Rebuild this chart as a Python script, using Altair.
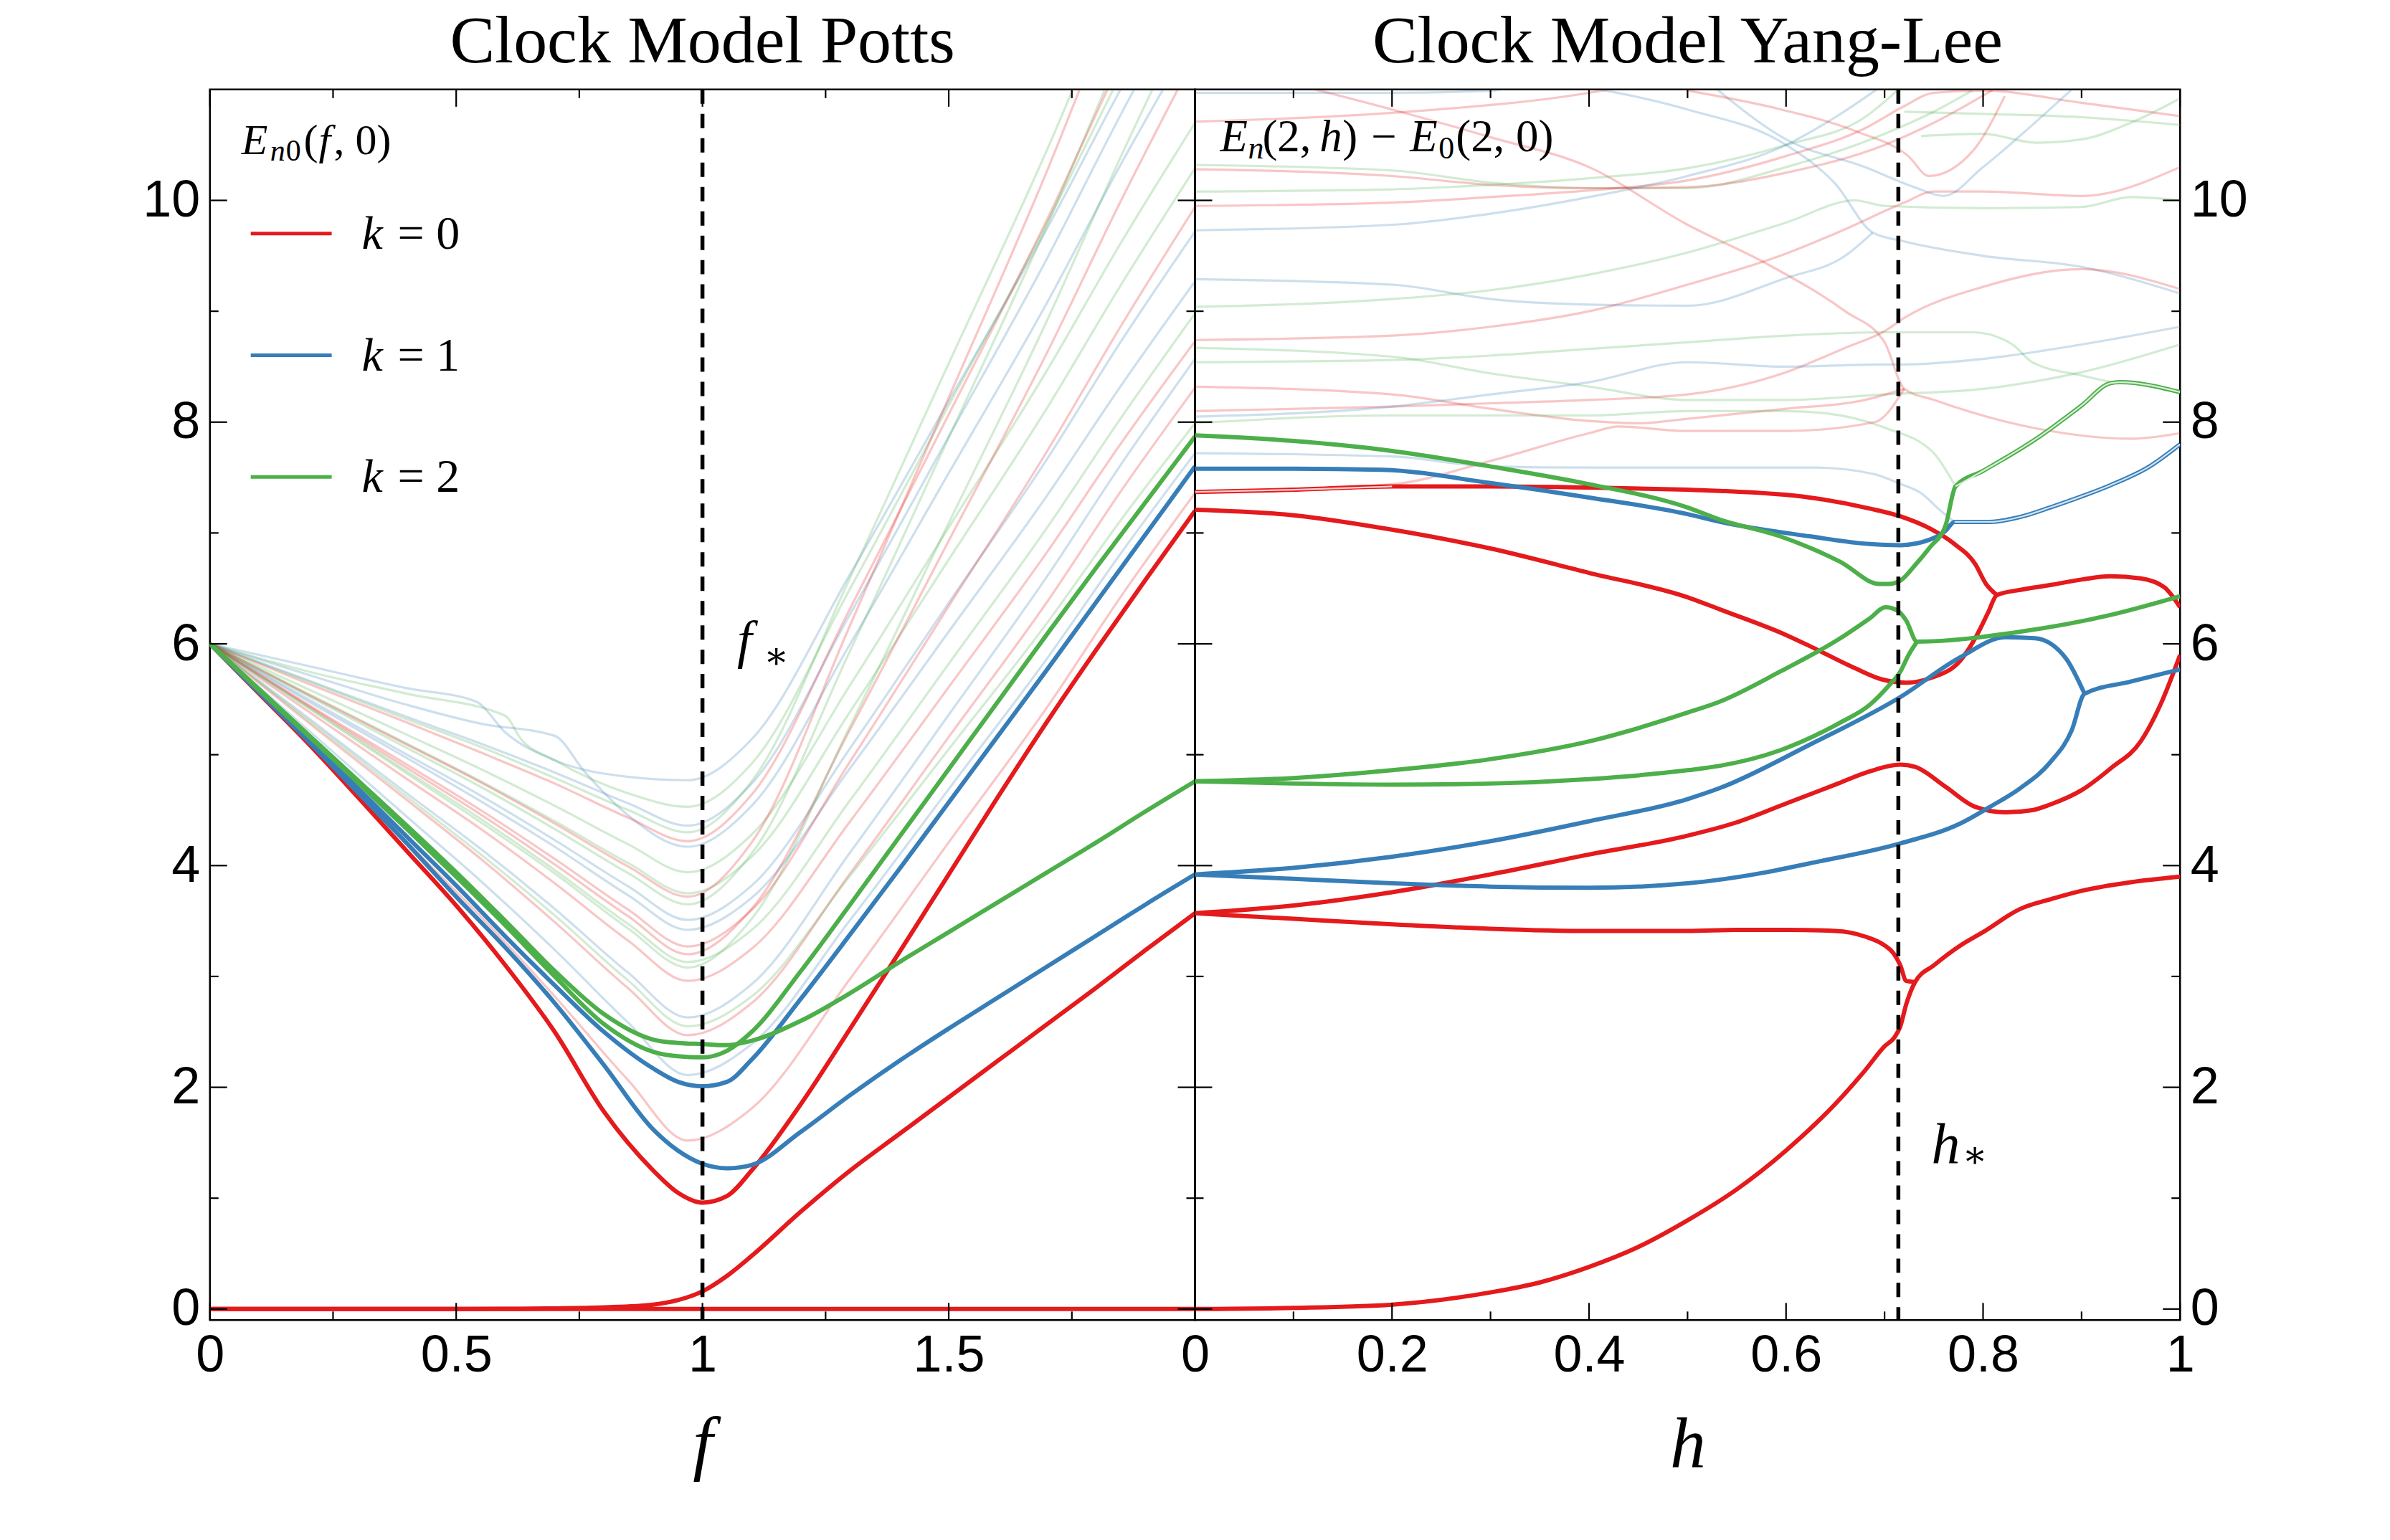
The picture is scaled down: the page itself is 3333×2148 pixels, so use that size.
import altair as alt
import pandas as pd

# ---------------------------------------------------------------
# Colours, fonts, sizes
# ---------------------------------------------------------------
RED, BLUE, GREEN = "#e41a1c", "#377eb8", "#4daf4a"
PALE_RED, PALE_BLUE, PALE_GREEN = "#f8cfd0", "#d3e3f0", "#d8eed7"
SERIF = "Liberation Serif"
SANS = "Liberation Sans"
W, H = 1375, 1718
Y_DOMAIN = [-0.1, 11.0]
Y_TICKS = [0, 2, 4, 6, 8, 10]
Y_MINOR = [1, 3, 5, 7, 9]

# ---------------------------------------------------------------
# Clock model, Potts direction: E_n0(f, 0)
# ---------------------------------------------------------------
POTTS_X_LABELS = [0, 0.5, 1, 1.5]
POTTS_X_MAJOR = [0, 0.5, 1, 1.5, 2]
POTTS_X_MINOR = [0.25, 0.75, 1.25, 1.75]
F_STAR = 1.0

F_GRID = [0, 0.1, 0.2, 0.3, 0.4, 0.5, 0.6, 0.7, 0.8, 0.9, 0.95, 1.0, 1.05,
          1.1, 1.2, 1.3, 1.4, 1.5, 1.6, 1.7, 1.8, 1.9, 2.0]
potts_k0_ground = [0, 0, 0, 0, 0, 0, 0, 0, 0, 0, 0, 0, 0,
                   0, 0, 0, 0, 0, 0, 0, 0, 0, 0]
potts_k0_low = [0, 0, 0, 0, 0, 0, 0.002, 0.006, 0.015, 0.04, 0.08, 0.16, 0.3,
                0.48, 0.88, 1.25, 1.58, 1.91, 2.24, 2.57, 2.9, 3.24, 3.57]
potts_k0_mid = [6, 5.55, 5.1, 4.62, 4.13, 3.64, 3.1, 2.5, 1.78, 1.25, 1.05, 0.96, 1.02,
                1.25, 1.85, 2.53, 3.22, 3.92, 4.62, 5.3, 5.95, 6.58, 7.2]
potts_k1_low = [6, 5.56, 5.12, 4.66, 4.2, 3.72, 3.26, 2.76, 2.2, 1.62, 1.43, 1.31, 1.27,
                1.3, 1.6, 1.93, 2.24, 2.53, 2.81, 3.09, 3.37, 3.65, 3.92]
potts_k1_up = [6, 5.57, 5.14, 4.7, 4.26, 3.82, 3.36, 2.92, 2.5, 2.17, 2.05, 2.01, 2.05,
               2.25, 2.8, 3.38, 3.97, 4.57, 5.17, 5.77, 6.38, 6.99, 7.6]
potts_k2_up = [6, 5.58, 5.17, 4.75, 4.33, 3.9, 3.46, 3.0, 2.57, 2.32, 2.28, 2.27, 2.33,
               2.5, 3.05, 3.65, 4.26, 4.87, 5.48, 6.09, 6.69, 7.28, 7.87]
potts_k2_low = [6, 5.59, 5.18, 4.77, 4.36, 3.94, 3.5, 3.05, 2.66, 2.43, 2.4, 2.39, 2.38,
                2.42, 2.6, 2.85, 3.13, 3.4, 3.67, 3.94, 4.21, 4.49, 4.76]

# higher levels, drawn pale
FG = [0, 0.2, 0.4, 0.55, 0.7, 0.85, 0.97, 1.1, 1.3, 1.5, 1.7, 1.85, 2.0]
pf_b1_f = [0, 0.2, 0.4, 0.54, 0.6, 0.7, 0.85, 0.97, 1.1, 1.3, 1.5, 1.7, 1.85, 2.0]
pf_b1 = [6, 5.8, 5.6, 5.48, 5.2, 4.95, 4.8, 4.77, 5.14, 6.63, 8.19, 9.75, 11.01, 12.2]
pf_g2_f = [0, 0.2, 0.4, 0.6, 0.63, 0.7, 0.85, 0.97, 1.1, 1.3, 1.5, 1.7, 1.85, 2.0]
pf_g2 = [6, 5.75, 5.55, 5.35, 5.15, 4.95, 4.65, 4.53, 4.92, 6.5, 8.15, 9.8, 11.14, 12.4]
pf_b3 = [6, 5.67, 5.34, 5.1, 4.84, 4.56, 4.36, 4.74, 6.27, 7.87, 9.48, 10.78, 12.0]
pf_b4_f = [0, 0.2, 0.4, 0.55, 0.7, 0.76, 0.85, 0.97, 1.1, 1.3, 1.5, 1.7, 1.85, 2.0]
pf_b4 = [6, 5.72, 5.45, 5.28, 5.17, 4.85, 4.45, 4.17, 4.54, 6.0, 7.54, 9.08, 10.33, 11.5]
pf_g5 = [6, 5.59, 5.18, 4.87, 4.54, 4.19, 3.94, 4.28, 5.63, 7.05, 8.47, 9.62, 10.7]
pf_g6 = [6, 5.55, 5.1, 4.76, 4.4, 4.02, 3.75, 4.08, 5.39, 6.76, 8.13, 9.24, 10.29]
pf_b7 = [6, 5.5, 5.0, 4.63, 4.23, 3.81, 3.51, 3.82, 5.06, 6.37, 7.67, 8.73, 9.72]
pf_b8 = [6, 5.48, 4.97, 4.58, 4.17, 3.73, 3.42, 3.71, 4.88, 6.11, 7.34, 8.33, 9.27]
pf_r9 = [6, 5.45, 4.91, 4.5, 4.06, 3.6, 3.27, 3.6, 4.94, 6.34, 7.74, 8.87, 9.94]
pf_g10 = [6, 5.43, 4.85, 4.42, 3.96, 3.47, 3.13, 3.42, 4.59, 5.82, 7.05, 8.04, 8.98]
pf_r11 = [6, 5.39, 4.78, 4.33, 3.84, 3.32, 2.96, 3.25, 4.4, 5.61, 6.83, 7.81, 8.73]
pf_b12 = [6, 5.33, 4.65, 4.15, 3.61, 3.03, 2.63, 2.93, 4.12, 5.36, 6.61, 7.62, 8.57]
pf_r13 = [6, 5.29, 4.59, 4.06, 3.49, 2.89, 2.47, 2.76, 3.93, 5.16, 6.38, 7.38, 8.31]
pf_b14 = [6, 5.22, 4.44, 3.86, 3.24, 2.58, 2.11, 2.39, 3.51, 4.69, 5.87, 6.82, 7.72]
pf_g15 = [6, 5.31, 4.62, 4.1, 3.55, 2.96, 2.55, 2.82, 3.91, 5.05, 6.19, 7.12, 7.99]
pf_r16 = [6, 5.1, 4.21, 3.54, 2.82, 2.06, 1.52, 1.81, 2.98, 4.21, 5.43, 6.43, 7.36]
pf_r17 = [6, 5.44, 4.88, 4.46, 4.01, 3.54, 3.2, 3.61, 5.23, 6.93, 8.63, 10.0, 11.3]
pf_g18 = [6, 5.53, 5.06, 4.71, 4.33, 3.93, 3.65, 4.11, 5.94, 7.86, 9.78, 11.34, 12.8]
pf_r19 = [6, 5.54, 5.09, 4.75, 4.38, 3.99, 3.72, 4.21, 6.17, 8.22, 10.27, 11.94, 13.5]
pf_g20 = [6, 5.42, 4.83, 4.39, 3.93, 3.43, 3.08, 3.52, 5.26, 7.09, 8.92, 10.4, 11.8]
pf_g21 = [6, 5.66, 5.32, 5.07, 4.79, 4.5, 4.3, 4.76, 6.6, 8.53, 10.46, 12.03, 13.5]
pf_r22 = [6, 5.64, 5.29, 5.02, 4.74, 4.43, 4.22, 4.64, 6.32, 8.07, 9.83, 11.26, 12.6]

# ---------------------------------------------------------------
# Clock model, Yang-Lee direction: E_n(2, h) - E_0(2, 0)
# ---------------------------------------------------------------
YL_X_LABELS = [0, 0.2, 0.4, 0.6, 0.8, 1]
YL_X_MAJOR = [0, 0.2, 0.4, 0.6, 0.8, 1]
YL_X_MINOR = [0.1, 0.3, 0.5, 0.7, 0.9]
H_STAR = 0.714

yl_k0_ground_h = [0, 0.1, 0.2, 0.3, 0.35, 0.4, 0.45, 0.5, 0.55, 0.6, 0.65, 0.68, 0.7, 0.71,
                  0.716, 0.722, 0.731, 0.75, 0.777, 0.8, 0.838, 0.87, 0.899, 0.95, 1.0]
yl_k0_ground_v = [0, 0.01, 0.04, 0.15, 0.24, 0.38, 0.56, 0.8, 1.08, 1.43, 1.85, 2.15, 2.37,
                  2.45, 2.55, 2.75, 2.95, 3.1, 3.28, 3.4, 3.61, 3.7, 3.77, 3.85, 3.9]
yl_k0_flat_h = [0, 0.1, 0.2, 0.3, 0.4, 0.5, 0.55, 0.6, 0.65, 0.68, 0.7, 0.709, 0.716, 0.722, 0.731]
yl_k0_flat_v = [3.57, 3.52, 3.47, 3.43, 3.41, 3.41, 3.42, 3.42, 3.41, 3.36, 3.28, 3.21, 3.1, 2.96, 2.95]
yl_k0_loop_h = [0, 0.1, 0.2, 0.3, 0.4, 0.5, 0.55, 0.6, 0.65, 0.685, 0.716, 0.731, 0.762, 0.792,
                0.823, 0.85, 0.868, 0.9, 0.93, 0.96, 0.98, 1.0]
yl_k0_loop_v = [3.57, 3.64, 3.76, 3.92, 4.1, 4.27, 4.39, 4.56, 4.73, 4.85, 4.91, 4.89, 4.71, 4.53,
                4.48, 4.5, 4.55, 4.68, 4.88, 5.12, 5.45, 5.9]
yl_k0_72_h = [0, 0.1, 0.2, 0.3, 0.4, 0.5, 0.533, 0.6, 0.624, 0.67, 0.697, 0.722, 0.746, 0.777,
              0.792, 0.805, 0.814, 0.84, 0.868, 0.9, 0.929, 0.96, 0.984, 1.0]
yl_k0_72_v = [7.21, 7.16, 7.03, 6.86, 6.64, 6.42, 6.31, 6.08, 5.98, 5.78, 5.68, 5.65, 5.69, 5.85,
              6.05, 6.28, 6.44, 6.49, 6.53, 6.58, 6.61, 6.59, 6.51, 6.33]
yl_k0_74_h = [0, 0.1, 0.2, 0.3, 0.4, 0.5, 0.533, 0.624, 0.685, 0.716, 0.746, 0.771, 0.792, 0.803, 0.814]
yl_k0_74_v = [7.37, 7.39, 7.42, 7.42, 7.41, 7.39, 7.38, 7.32, 7.22, 7.15, 7.04, 6.9, 6.72, 6.54, 6.44]
yl_k1_low_h = [0, 0.1, 0.2, 0.3, 0.4, 0.5, 0.58, 0.624, 0.716, 0.777, 0.807, 0.838, 0.868, 0.89,
               0.903, 0.95, 1.0]
yl_k1_low_v = [3.92, 3.88, 3.84, 3.81, 3.8, 3.84, 3.94, 4.02, 4.2, 4.38, 4.53, 4.7, 4.93, 5.22,
               5.55, 5.66, 5.77]
yl_k1_up_h = [0, 0.1, 0.2, 0.3, 0.4, 0.5, 0.533, 0.624, 0.716, 0.777, 0.823, 0.853, 0.884, 0.903]
yl_k1_up_v = [3.92, 3.98, 4.08, 4.22, 4.4, 4.6, 4.7, 5.09, 5.52, 5.88, 6.06, 6.05, 5.87, 5.55]
yl_k1_7_h = [0, 0.1, 0.19, 0.3, 0.4, 0.5, 0.533, 0.624, 0.685, 0.716, 0.746, 0.762, 0.771]
yl_k1_7_v = [7.58, 7.58, 7.57, 7.45, 7.32, 7.17, 7.1, 6.97, 6.9, 6.89, 6.94, 7.02, 7.1]
yl_k1_7_tail_h = [0.771, 0.807, 0.84, 0.868, 0.9, 0.929, 0.969, 1.0]
yl_k1_7_tail_v = [7.1, 7.1, 7.15, 7.23, 7.33, 7.43, 7.6, 7.8]
yl_k2_up_h = [0, 0.1, 0.2, 0.3, 0.4, 0.5, 0.533, 0.594, 0.655, 0.685, 0.701, 0.713, 0.722, 0.733,
              0.838, 0.929, 1.0]
yl_k2_up_v = [4.76, 4.79, 4.86, 4.96, 5.12, 5.38, 5.48, 5.75, 6.05, 6.23, 6.33, 6.3, 6.21, 6.02,
              6.11, 6.26, 6.43]
yl_k2_low_h = [0, 0.1, 0.2, 0.3, 0.4, 0.5, 0.533, 0.594, 0.655, 0.685, 0.704, 0.716, 0.725, 0.733]
yl_k2_low_v = [4.76, 4.74, 4.73, 4.74, 4.78, 4.86, 4.9, 5.04, 5.29, 5.45, 5.62, 5.75, 5.91, 6.02]
yl_k2_7_h = [0, 0.1, 0.2, 0.3, 0.4, 0.5, 0.533, 0.594, 0.655, 0.695, 0.704, 0.716, 0.731, 0.746,
             0.762, 0.772]
yl_k2_7_v = [7.88, 7.83, 7.74, 7.6, 7.44, 7.23, 7.12, 6.97, 6.74, 6.54, 6.54, 6.57, 6.71, 6.87,
             7.07, 7.42]
yl_k2_7_tail_h = [0.772, 0.8, 0.854, 0.9, 0.929, 0.939, 1.0]
yl_k2_7_tail_v = [7.42, 7.56, 7.85, 8.15, 8.35, 8.36, 8.27]

# higher levels, drawn pale
yf_b1_h = [0, 0.1, 0.2, 0.3, 0.35]
yf_b1 = [10.97, 10.97, 10.97, 10.99, 11.1]
yf_r2_h = [0, 0.2, 0.4, 0.45]
yf_r2 = [10.71, 10.79, 10.97, 11.05]
yf_r3_h = [0.1, 0.2, 0.3, 0.4, 0.5, 0.58, 0.66, 0.7, 0.72, 0.75, 0.85, 0.95, 1.0]
yf_r3 = [11.05, 10.82, 10.57, 10.3, 9.78, 9.43, 9.0, 8.72, 8.3, 8.2, 7.95, 7.85, 7.9]
yf_g4_h = [0, 0.2, 0.3, 0.4, 0.5, 0.6, 0.7, 0.75, 0.8]
yf_g4 = [10.32, 10.27, 10.16, 10.11, 10.11, 10.3, 10.6, 10.8, 11.05]
yf_r5_h = [0, 0.2, 0.3, 0.4, 0.5, 0.6, 0.7, 0.75, 0.82]
yf_r5 = [10.28, 10.22, 10.14, 10.11, 10.12, 10.25, 10.5, 10.7, 11.05]
yf_g6_h = [0, 0.2, 0.3, 0.4, 0.5, 0.6, 0.68, 0.72]
yf_g6 = [10.08, 10.1, 10.14, 10.2, 10.29, 10.5, 10.75, 11.05]
yf_r7_h = [0, 0.2, 0.3, 0.4, 0.5, 0.6, 0.68, 0.72, 0.75, 0.8, 0.9, 1.0]
yf_r7 = [9.95, 9.98, 10.03, 10.09, 10.18, 10.4, 10.65, 10.85, 10.97, 10.99, 10.88, 10.76]
yf_b8_h = [0, 0.2, 0.3, 0.4, 0.5, 0.6, 0.65, 0.7]
yf_b8 = [9.73, 9.78, 9.88, 10.03, 10.22, 10.5, 10.75, 11.05]
yf_b9_h = [0.4, 0.5, 0.6, 0.65, 0.688, 0.72, 0.8, 0.9, 1.0]
yf_b9 = [11.02, 10.82, 10.5, 10.15, 9.71, 9.63, 9.5, 9.4, 9.16]
yf_b10_h = [0, 0.2, 0.3, 0.4, 0.5, 0.6, 0.66, 0.688]
yf_b10 = [9.29, 9.24, 9.11, 9.06, 9.05, 9.3, 9.5, 9.71]
yf_g11_h = [0, 0.2, 0.3, 0.4, 0.5, 0.6, 0.67, 0.7, 0.8, 0.9, 0.95, 1.0]
yf_g11 = [9.04, 9.11, 9.19, 9.33, 9.53, 9.8, 10.0, 9.95, 9.93, 9.94, 10.03, 10.0]
yf_r12_h = [0, 0.2, 0.3, 0.4, 0.5, 0.6, 0.66, 0.72, 0.75, 0.8, 0.9, 1.0]
yf_r12 = [8.74, 8.78, 8.86, 9.0, 9.24, 9.52, 9.74, 9.98, 10.08, 10.08, 10.04, 10.3]
yf_g13_h = [0, 0.2, 0.3, 0.4, 0.5, 0.6, 0.7, 0.8, 0.9, 1.0]
yf_g13 = [8.67, 8.59, 8.44, 8.32, 8.2, 8.2, 8.25, 8.3, 8.45, 8.7]
yf_g14_h = [0, 0.2, 0.3, 0.4, 0.5, 0.6, 0.7, 0.79, 0.83, 0.85, 0.9, 0.93]
yf_g14 = [8.54, 8.56, 8.6, 8.66, 8.72, 8.78, 8.81, 8.81, 8.7, 8.54, 8.42, 8.36]
yf_r15_h = [0, 0.2, 0.3, 0.4, 0.45, 0.5, 0.6, 0.68, 0.72]
yf_r15 = [8.32, 8.25, 8.12, 8.01, 7.99, 8.03, 8.12, 8.2, 8.3]
yf_r16_h = [0, 0.2, 0.3, 0.4, 0.5, 0.6, 0.66, 0.7, 0.72, 0.8, 0.9, 1.0]
yf_r16 = [8.1, 8.14, 8.17, 8.2, 8.25, 8.45, 8.67, 8.82, 8.94, 9.22, 9.38, 9.2]
yf_b17_h = [0, 0.2, 0.3, 0.4, 0.5, 0.6, 0.7, 0.72, 0.8, 0.9, 1.0]
yf_b17 = [8.05, 8.14, 8.25, 8.36, 8.54, 8.5, 8.52, 8.52, 8.57, 8.7, 8.86]
yf_g18_h = [0, 0.2, 0.3, 0.4, 0.5, 0.6, 0.64, 0.7, 0.75, 0.772]
yf_g18 = [7.99, 8.06, 8.06, 8.06, 8.1, 8.1, 8.08, 7.95, 7.72, 7.42]
yf_r19_h = [0, 0.2, 0.3, 0.4, 0.43, 0.5, 0.6, 0.69, 0.72]
yf_r19 = [7.37, 7.44, 7.65, 7.9, 7.96, 7.92, 7.92, 8.0, 8.3]
yf_b20_h = [0, 0.2, 0.3, 0.4, 0.5, 0.63, 0.69, 0.714, 0.737, 0.757, 0.771]
yf_b20 = [7.72, 7.69, 7.6, 7.59, 7.59, 7.59, 7.53, 7.45, 7.36, 7.2, 7.1]
yf_b21_h = [0.53, 0.6, 0.68, 0.73, 0.76, 0.8, 0.85, 0.89]
yf_b21 = [11.0, 10.55, 10.3, 10.12, 10.04, 10.3, 10.68, 11.0]
yf_g22_h = [0.72, 0.8, 0.9, 1.0]
yf_g22 = [10.8, 10.78, 10.75, 10.68]
yf_g23_h = [0.737, 0.8, 0.854, 0.9, 0.95, 1.0]
yf_g23 = [10.58, 10.6, 10.52, 10.55, 10.7, 10.92]
yf_r24_h = [0.5, 0.595, 0.672, 0.724, 0.745, 0.79, 0.822]
yf_r24 = [10.99, 10.82, 10.62, 10.4, 10.22, 10.45, 10.94]


# ---------------------------------------------------------------
# Tables
# ---------------------------------------------------------------
def table(curves):
    rows = []
    for name, k, xs, ys in curves:
        for i, (x, y) in enumerate(zip(xs, ys)):
            rows.append({"curve": name, "k": k, "i": i, "x": x, "y": y})
    return pd.DataFrame(rows)


potts_main = table([
    ("k0 ground", "0", F_GRID, potts_k0_ground),
    ("k0 low", "0", F_GRID, potts_k0_low),
    ("k0 mid", "0", F_GRID, potts_k0_mid),
    ("k1 low", "1", F_GRID, potts_k1_low),
    ("k1 up", "1", F_GRID, potts_k1_up),
    ("k2 low", "2", F_GRID, potts_k2_low),
    ("k2 up", "2", F_GRID, potts_k2_up),
])
potts_faint = table([
    ("b1", "1", pf_b1_f, pf_b1), ("g2", "2", pf_g2_f, pf_g2), ("b3", "1", FG, pf_b3),
    ("b4", "1", pf_b4_f, pf_b4), ("g5", "2", FG, pf_g5), ("g6", "2", FG, pf_g6),
    ("b7", "1", FG, pf_b7), ("b8", "1", FG, pf_b8), ("r9", "0", FG, pf_r9),
    ("g10", "2", FG, pf_g10), ("r11", "0", FG, pf_r11), ("b12", "1", FG, pf_b12),
    ("r13", "0", FG, pf_r13), ("b14", "1", FG, pf_b14), ("g15", "2", FG, pf_g15),
    ("r16", "0", FG, pf_r16), ("r17", "0", FG, pf_r17), ("g18", "2", FG, pf_g18),
    ("r19", "0", FG, pf_r19), ("g20", "2", FG, pf_g20), ("g21", "2", FG, pf_g21),
    ("r22", "0", FG, pf_r22),
])

yl_main = table([
    ("k0 ground", "0", yl_k0_ground_h, yl_k0_ground_v),
    ("k0 flat", "0", yl_k0_flat_h, yl_k0_flat_v),
    ("k0 loop", "0", yl_k0_loop_h, yl_k0_loop_v),
    ("k0 7.2", "0", yl_k0_72_h, yl_k0_72_v),
    ("k0 7.4", "0", yl_k0_74_h, yl_k0_74_v),
    ("k1 low", "1", yl_k1_low_h, yl_k1_low_v),
    ("k1 up", "1", yl_k1_up_h, yl_k1_up_v),
    ("k1 7.6", "1", yl_k1_7_h + yl_k1_7_tail_h[1:], yl_k1_7_v + yl_k1_7_tail_v[1:]),
    ("k2 up", "2", yl_k2_up_h, yl_k2_up_v),
    ("k2 low", "2", yl_k2_low_h, yl_k2_low_v),
    ("k2 7.9", "2", yl_k2_7_h + yl_k2_7_tail_h[1:], yl_k2_7_v + yl_k2_7_tail_v[1:]),
])
yl_faint = table([
    ("b1", "1", yf_b1_h, yf_b1), ("r2", "0", yf_r2_h, yf_r2), ("r3", "0", yf_r3_h, yf_r3),
    ("g4", "2", yf_g4_h, yf_g4), ("r5", "0", yf_r5_h, yf_r5), ("g6", "2", yf_g6_h, yf_g6),
    ("r7", "0", yf_r7_h, yf_r7), ("b8", "1", yf_b8_h, yf_b8), ("b9", "1", yf_b9_h, yf_b9),
    ("b10", "1", yf_b10_h, yf_b10), ("g11", "2", yf_g11_h, yf_g11),
    ("r12", "0", yf_r12_h, yf_r12), ("g13", "2", yf_g13_h, yf_g13),
    ("g14", "2", yf_g14_h, yf_g14), ("r15", "0", yf_r15_h, yf_r15),
    ("r16", "0", yf_r16_h, yf_r16), ("b17", "1", yf_b17_h, yf_b17),
    ("g18", "2", yf_g18_h, yf_g18), ("r19", "0", yf_r19_h, yf_r19),
    ("b20", "1", yf_b20_h, yf_b20), ("b21", "1", yf_b21_h, yf_b21),
    ("g22", "2", yf_g22_h, yf_g22), ("g23", "2", yf_g23_h, yf_g23),
    ("r24", "0", yf_r24_h, yf_r24),
])
# doubly degenerate stretches get a pale centre stripe
yl_double = [
    (PALE_RED, table([("d", "0", yl_k0_74_h[:3], yl_k0_74_v[:3])])),
    (PALE_BLUE, table([("d", "1", yl_k1_7_tail_h, yl_k1_7_tail_v)])),
    (PALE_GREEN, table([("d", "2", yl_k2_7_tail_h, yl_k2_7_tail_v)])),
]


# ---------------------------------------------------------------
# Building blocks
# ---------------------------------------------------------------
COLOR = alt.Color("k:N", scale=alt.Scale(domain=["0", "1", "2"], range=[RED, BLUE, GREEN]),
                  legend=None)
MAIN_WIDTH = 6
FAINT_WIDTH = 3.2


def txt(s, x, y, size, italic=False, font=SERIF, align="left", baseline="alphabetic"):
    return alt.Chart(pd.DataFrame({"s": [s]})).mark_text(
        font=font, fontSize=size, fontStyle="italic" if italic else "normal",
        align=align, baseline=baseline, color="black",
    ).encode(text="s:N", x=alt.value(x), y=alt.value(y))


def hrule(color, x1, x2, y, width):
    return alt.Chart(pd.DataFrame({"a": [0]})).mark_rule(color=color, strokeWidth=width).encode(
        x=alt.value(x1), x2=alt.value(x2), y=alt.value(y))


def vrule(color, x, y1, y2, width):
    return alt.Chart(pd.DataFrame({"a": [0]})).mark_rule(color=color, strokeWidth=width).encode(
        x=alt.value(x), y=alt.value(y1), y2=alt.value(y2))


def panel(x_domain, x_labels, x_major, x_minor, x_title, y_orient, faint, main, doubles,
          star_x, extras):
    axis_common = dict(ticks=False, tickSize=0, domain=False, grid=False, labelFont=SANS,
                       labelFontSize=72, labelColor="black", labelFlush=False,
                       labelOverlap=False)
    x_enc = alt.X("x:Q", scale=alt.Scale(domain=x_domain, nice=False, zero=False),
                  axis=alt.Axis(values=x_labels, format="~g", title=x_title, labelPadding=14,
                                titleFont=SERIF, titleFontSize=100, titleFontStyle="italic",
                                titleFontWeight="normal", titleColor="black", titlePadding=40,
                                **axis_common))
    y_enc = alt.Y("y:Q", scale=alt.Scale(domain=Y_DOMAIN, nice=False, zero=False),
                  axis=alt.Axis(orient=y_orient, values=Y_TICKS, format="d", title=None,
                                labelPadding=14, **axis_common))

    layers = []
    layers.append(alt.Chart(faint).mark_line(
        strokeWidth=FAINT_WIDTH, opacity=0.25, clip=True, interpolate="monotone").encode(
        x=x_enc, y=y_enc, color=COLOR, detail="curve:N", order="i:Q"))
    layers.append(alt.Chart(main).mark_line(
        strokeWidth=MAIN_WIDTH, clip=True, interpolate="monotone").encode(
        x=x_enc, y=y_enc, color=COLOR, detail="curve:N", order="i:Q"))
    for pale, df in doubles:
        layers.append(alt.Chart(df).mark_line(
            strokeWidth=2.2, color=pale, clip=True, interpolate="monotone").encode(
            x=x_enc, y=y_enc, order="i:Q"))
    layers.append(alt.Chart(pd.DataFrame({"x": [star_x]})).mark_rule(
        color="black", strokeWidth=5.5, strokeDash=[20, 14]).encode(x=x_enc))

    # inward ticks on all four sides
    for vals, size in ((x_major, 24), (x_minor, 12)):
        d = pd.DataFrame({"x": vals})
        layers.append(alt.Chart(d).mark_rule(color="black", strokeWidth=2.2).encode(
            x=x_enc, y=alt.value(H), y2=alt.value(H - size)))
        layers.append(alt.Chart(d).mark_rule(color="black", strokeWidth=2.2).encode(
            x=x_enc, y=alt.value(0), y2=alt.value(size)))
    for vals, size in ((Y_TICKS, 24), (Y_MINOR, 12)):
        d = pd.DataFrame({"y": vals})
        layers.append(alt.Chart(d).mark_rule(color="black", strokeWidth=2.2).encode(
            y=y_enc, x=alt.value(0), x2=alt.value(size)))
        layers.append(alt.Chart(d).mark_rule(color="black", strokeWidth=2.2).encode(
            y=y_enc, x=alt.value(W), x2=alt.value(W - size)))

    layers.extend(extras)
    return alt.layer(*layers).properties(width=W, height=H)


# ---------------------------------------------------------------
# Annotations
# ---------------------------------------------------------------
potts_extras = [
    txt("Clock Model Potts", W / 2, -38, 94, align="center"),
    txt("E", 44, 90, 60, italic=True),
    txt("n", 84, 99, 42, italic=True),
    txt("0", 106, 99, 42),
    txt("(", 131, 90, 60),
    txt("f", 152, 90, 60, italic=True),
    txt(", 0)", 173, 90, 60),
    hrule(RED, 57, 170, 201, 5), txt("k", 212, 222, 66, italic=True), txt("= 0", 262, 222, 66),
    hrule(BLUE, 57, 170, 371, 5), txt("k", 212, 392, 66, italic=True), txt("= 1", 262, 392, 66),
    hrule(GREEN, 57, 170, 541, 5), txt("k", 212, 562, 66, italic=True), txt("= 2", 262, 562, 66),
    txt("f", 736, 793, 74, italic=True),
    txt("\u2217", 773, 792, 52, font="DejaVu Serif", baseline="middle"),
    # keeps the page edge at the top-left corner
    vrule("white", -291, -122, 2026, 0.01),
]
yl_extras = [
    txt("Clock Model Yang-Lee", W / 2, -38, 94, align="center"),
    txt("E", 35, 86, 63, italic=True),
    txt("n", 74, 96, 44, italic=True),
    txt("(2,", 94, 86, 63),
    txt("h", 174, 86, 63, italic=True),
    txt(")", 206, 86, 63),
    txt("\u2212", 246, 86, 63),
    txt("E", 300, 86, 63, italic=True),
    txt("0", 340, 96, 44),
    txt("(2, 0)", 364, 86, 63),
    txt("h", 1028, 1498, 80, italic=True),
    txt("\u2217", 1071, 1488, 52, font="DejaVu Serif", baseline="middle"),
    # keeps the page edge at the bottom-right corner
    vrule("white", W + 291, -122, 2026, 0.01),
]

left = panel([0, 2], POTTS_X_LABELS, POTTS_X_MAJOR, POTTS_X_MINOR, "f", "left",
             potts_faint, potts_main, [], F_STAR, potts_extras)
right = panel([0, 1], YL_X_LABELS, YL_X_MAJOR, YL_X_MINOR, "h", "right",
              yl_faint, yl_main, yl_double, H_STAR, yl_extras)

chart = alt.hconcat(left, right, spacing=0, bounds="flush").resolve_scale(
    x="independent", y="independent").resolve_axis(x="independent", y="independent").properties(
    padding=0, background="white").configure_view(stroke="black", strokeWidth=2.5)

chart.save("out.html", embed_options={"renderer": "svg", "actions": False})
